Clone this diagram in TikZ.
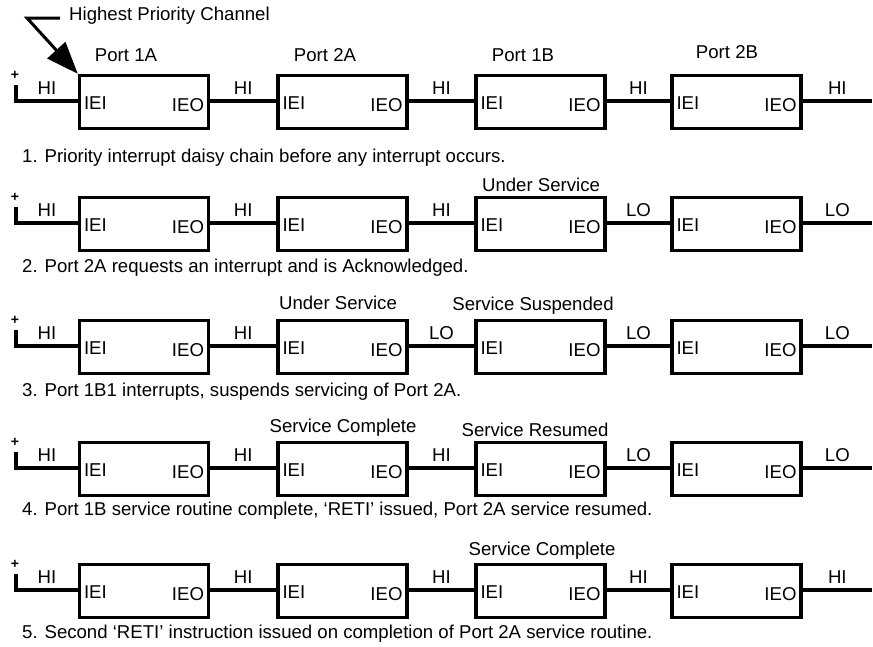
\documentclass[tikz,border=0pt]{standalone}
\usepackage{fontspec}
\setmainfont{Liberation Sans}
\usetikzlibrary{arrows.meta}
\begin{document}
\begin{tikzpicture}[x=1pt,y=-1pt,
  font=\fontsize{18.6}{21}\selectfont,
  port/.style={draw, line width=3.4pt, minimum width=129pt, minimum height=53pt, inner sep=0pt},
  wire/.style={line width=3.1pt},
  lvl/.style={above, inner sep=0pt, yshift=4.5pt},
  txt/.style={inner sep=0pt},
  plus/.style={inner sep=0pt, font=\fontsize{14}{14}\selectfont\bfseries}]
\useasboundingbox (0,0) rectangle (873,646);

\foreach \r/\y/\la/\lb/\lc/\ld/\le/\cy/\cap in {
 1/101/HI/HI/HI/HI/HI/158/{1. Priority interrupt daisy chain before any interrupt occurs.},
 2/223/HI/HI/HI/LO/LO/268/{2. Port 2A requests an interrupt and is Acknowledged.},
 3/346/HI/HI/LO/LO/LO/392/{3. Port 1B1 interrupts, suspends servicing of Port 2A.},
 4/468/HI/HI/HI/LO/LO/511/{4. Port 1B service routine complete, ‘RETI’ issued, Port 2A service resumed.},
 5/590/HI/HI/HI/HI/HI/634/{5. Second ‘RETI’ instruction issued on completion of Port 2A service routine.}}{
  \coordinate (s\r) at (16,\y-16);
  \coordinate (w\r) at (16,\y);
  \coordinate (e\r) at (872,\y);
  \node[plus] (plus\r) at (15,\y-26) {+};
  \foreach \i/\x in {1/144,2/342.5,3/540.5,4/736.5}{
    \node[port] (b\r-\i) at (\x,\y+1) {};
    \node[txt, anchor=west] (iei\r-\i) at ([xshift=6pt,yshift=-1.5pt]b\r-\i.west) {IEI};
    \node[txt, anchor=east] (ieo\r-\i) at ([xshift=-6pt,yshift=-3.5pt]b\r-\i.east) {IEO};
  }
  \draw[wire] (s\r) -- (w\r) -- node[lvl] (la\r) {\la} (b\r-1.west |- w\r);
  \draw[wire] (b\r-1.east |- w\r) -- node[lvl] (lb\r) {\lb} (b\r-2.west |- w\r);
  \draw[wire] (b\r-2.east |- w\r) -- node[lvl] (lc\r) {\lc} (b\r-3.west |- w\r);
  \draw[wire] (b\r-3.east |- w\r) -- node[lvl] (ld\r) {\ld} (b\r-4.west |- w\r);
  \draw[wire] (b\r-4.east |- w\r) -- node[lvl] (le\r) {\le} (e\r);
  \node[txt, anchor=west] (cap\r) at (22,\cy) {\cap};
}

% labels above boxes
\node[txt] (p1a) at (126,55) {Port 1A};
\node[txt] (p2a) at (325,55) {Port 2A};
\node[txt] (p1b) at (523,55) {Port 1B};
\node[txt] (p2b) at (727,52) {Port 2B};
\node[txt] (us2) at (541,185) {Under Service};
\node[txt] (us3) at (338,303) {Under Service};
\node[txt] (ss3) at (533,306) {Service Suspended};
\node[txt] (sc4) at (343,428) {Service Complete};
\node[txt] (sr4) at (535,430) {Service Resumed};
\node[txt] (sc5) at (542,551) {Service Complete};

% highest priority arrow
\node[txt, anchor=west] (hpc) at (69,16) {Highest Priority Channel};
\coordinate (hc) at (27,18);
\draw[line width=3pt, -{Triangle[length=32pt,width=24pt]}]
  ([xshift=-9pt,yshift=-2pt]hpc.west) -- (hc) -- (b1-1.north west);
\end{tikzpicture}
\end{document}
